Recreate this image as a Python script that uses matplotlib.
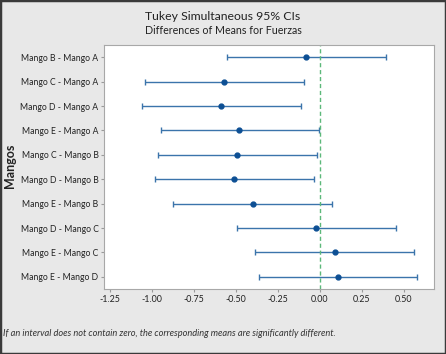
import numpy as np
import matplotlib.pyplot as plt
from matplotlib.patches import Rectangle

plt.rcParams['font.family'] = ['Lato', 'DejaVu Sans']

# Dados
comparacoes = ['Mango B - Mango A', 'Mango C - Mango A', 'Mango D - Mango A',
               'Mango E - Mango A', 'Mango C - Mango B', 'Mango D - Mango B',
               'Mango E - Mango B', 'Mango D - Mango C', 'Mango E - Mango C',
               'Mango E - Mango D']
diferencas = [-0.081, -0.569, -0.589, -0.480, -0.492, -0.510, -0.401, -0.024, 0.087, 0.105]
inferior = [-0.554, -1.042, -1.058, -0.948, -0.962, -0.982, -0.873, -0.496, -0.385, -0.365]
superior = [0.393, -0.097, -0.113, -0.004, -0.020, -0.038, 0.073, 0.450, 0.562, 0.579]
ticks_x = [-1.25, -1.00, -0.75, -0.50, -0.25, 0.00, 0.25, 0.50]

fig = plt.figure(figsize=(4.46, 3.54), dpi=100, facecolor='#e8e8e8')
ax = fig.add_axes([104/446, 1 - 289/354, 330/446, 244/354])

y = np.arange(len(comparacoes))
dif = np.array(diferencas)
erro = [dif - np.array(inferior), np.array(superior) - dif]
ax.errorbar(dif, y, xerr=erro, fmt='o', color='#2f6ea8', ecolor='#3b74ab',
            markerfacecolor='#0d4f94', markeredgecolor='#0d4f94', markersize=3.5,
            elinewidth=1.0, capsize=2.5, capthick=1.0)
ax.axvline(0, color='#5cb87a', linestyle=(0, (3, 2)), linewidth=1.0)

ax.set_ylim(len(comparacoes) - 0.5, -0.5)
ax.set_xlim(-1.286, 0.679)
ax.set_yticks(y)
ax.set_yticklabels(comparacoes, fontsize=6.2, color='#222222')
ax.set_xticks(ticks_x)
ax.set_xticklabels([f'{t:.2f}' for t in ticks_x], fontsize=6.4, color='#222222')
ax.tick_params(axis='both', length=2.5, color='#9a9a9a', pad=1.5)
for s in ax.spines.values():
    s.set_color('#a8a8a8')
    s.set_linewidth(0.8)

fig.text(0.5, 1 - 17/354, 'Tukey Simultaneous 95% CIs', ha='center', va='center',
         fontsize=8.8, color='#222222')
fig.text(0.5, 1 - 30/354, 'Differences of Means for Fuerzas', ha='center', va='center',
         fontsize=7.7, color='#222222')
fig.text(10/446, 1 - 166/354, 'Mangos', rotation=90, ha='center', va='center',
         fontsize=9, fontweight='bold', color='#222222')
fig.text(3/446, 1 - 334/354, 'If an interval does not contain zero, the corresponding means are significantly different.',
         ha='left', va='center', fontsize=6.7, style='italic', color='#333333')

fig.patches.append(Rectangle((0, 0), 1, 1, transform=fig.transFigure, fill=False,
                             edgecolor='#3a3a3a', linewidth=2.5))

fig.savefig('out.png', dpi=100, facecolor=fig.get_facecolor())
